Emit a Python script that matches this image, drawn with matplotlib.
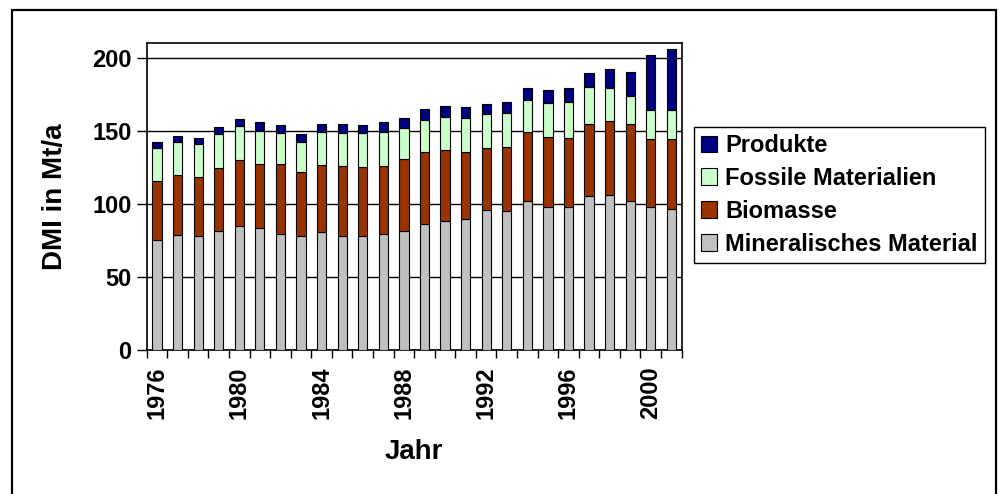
import numpy as np
import matplotlib.pyplot as plt
from matplotlib.patches import Rectangle

plt.rcParams['font.family'] = ['Liberation Sans', 'DejaVu Sans']
plt.rcParams['font.weight'] = 'bold'

years = list(range(1976, 2002))

# Mt/a
mineral = [75.3, 78.5, 77.8, 81.7, 84.7, 83.3, 79.4, 77.8, 81.0, 77.8, 78.3, 79.2, 81.7,
           86.5, 87.9, 89.5, 95.9, 95.0, 102.0, 97.5, 97.5, 105.5, 106.2, 101.6, 97.5, 96.6]
biomasse = [40.2, 40.9, 40.2, 42.5, 45.0, 44.1, 48.0, 44.2, 45.5, 48.0, 46.9, 46.6, 48.9,
            48.7, 48.9, 45.7, 42.5, 44.1, 47.2, 48.0, 47.3, 49.2, 50.3, 52.8, 47.1, 48.0]
fossil = [22.7, 22.9, 22.7, 23.4, 23.4, 22.7, 20.9, 20.1, 22.7, 22.5, 23.1, 23.4, 21.1,
          22.0, 22.7, 23.4, 22.7, 22.7, 21.9, 23.6, 25.0, 25.1, 22.6, 19.3, 19.7, 19.7]
produkte = [4.3, 4.1, 4.1, 5.0, 5.0, 5.7, 5.9, 5.7, 5.7, 6.6, 5.9, 6.6, 7.3,
            7.3, 7.3, 7.5, 7.3, 7.5, 8.3, 8.7, 9.6, 9.9, 13.1, 16.7, 37.5, 41.8]

labels = ['Mineralisches Material', 'Biomasse', 'Fossile Materialien', 'Produkte']
colors = ['#C0C0C0', '#993300', '#CCFFCC', '#000080']

fig = plt.figure(figsize=(9.98, 4.94), dpi=100)
ax = fig.add_axes([0.147, 0.2915, 0.536, 0.6215])

x = np.arange(len(years))
bottom = np.zeros(len(years))
bars = []
for vals, lab, col in zip([mineral, biomasse, fossil, produkte], labels, colors):
    b = ax.bar(x, vals, width=0.45, bottom=bottom, color=col, edgecolor='black',
               linewidth=0.8, label=lab, zorder=3)
    bars.append(b)
    bottom += np.array(vals)

ax.set_xlim(-0.5, len(years) - 0.5)
ax.set_ylim(0, 210)
ax.set_yticks([0, 50, 100, 150, 200])
ax.yaxis.grid(True, color='black', linewidth=1, zorder=0)
ax.set_axisbelow(True)

ax.set_xticks(x[::4])
ax.set_xticklabels([str(years[i]) for i in x[::4]], rotation=90, fontsize=17, fontweight='bold')
ax.set_xticks(np.arange(-0.5, len(years)), minor=True)
ax.tick_params(axis='x', which='major', length=0, pad=12)
ax.tick_params(axis='x', which='minor', length=6, width=1, direction='out')
ax.tick_params(axis='y', length=7, width=1, direction='out', labelsize=17, pad=4)
for t in ax.get_yticklabels():
    t.set_fontweight('bold')

for s in ax.spines.values():
    s.set_linewidth(1.2)
    s.set_color('black')

ax.set_ylabel('DMI in Mt/a', fontsize=20, fontweight='bold', labelpad=17)
ax.set_xlabel('Jahr', fontsize=20, fontweight='bold', labelpad=14)

handles = bars[::-1]
leg = fig.legend(handles, labels[::-1], loc='upper left', bbox_to_anchor=(0.695, 0.743),
                 bbox_transform=fig.transFigure, fancybox=False, edgecolor='black',
                 framealpha=1, borderaxespad=0, prop={'size': 17, 'weight': 'bold'},
                 handlelength=0.7, handleheight=0.7, handletextpad=0.35,
                 labelspacing=0.42, borderpad=0.3)
leg.get_frame().set_linewidth(1)

fig.patches.append(Rectangle((12 / 998, -0.02), 984 / 998, 1.0, transform=fig.transFigure,
                             fill=False, edgecolor='black', linewidth=1.6))

fig.savefig('out.png', dpi=100)
